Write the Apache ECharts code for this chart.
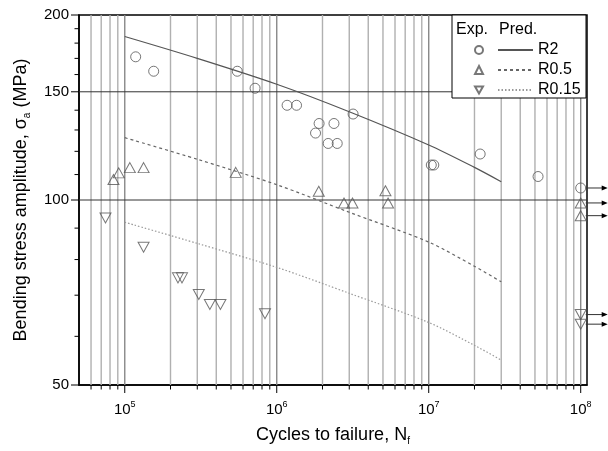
<!DOCTYPE html>
<html><head><meta charset="utf-8">
<script src="https://cdn.jsdelivr.net/npm/echarts@6/dist/echarts.min.js"></script>
<style>html,body{margin:0;padding:0;background:#fff}#c{width:608px;height:451px}</style>
</head><body><div id="c"></div>
<script>
// Experimental data [cycles to failure, stress amplitude MPa]
const r2Exp = [[1.18e5,171],[1.55e5,162],[5.5e5,162],[7.2e5,152],[1.17e6,142.6],[1.35e6,142.6],[1.8e6,128.5],[1.9e6,133.2],[2.18e6,123.6],[2.38e6,133.2],[2.5e6,123.6],[3.18e6,138],[1.04e7,114],[1.08e7,114],[2.18e7,118.8],[5.24e7,109.2],[1e8,104.6]];
const r05Exp = [[8.43e4,108],[9.13e4,110.7],[1.08e5,112.9],[1.33e5,112.9],[5.37e5,110.9],[1.89e6,103.3],[2.77e6,98.9],[3.15e6,98.9],[5.19e6,103.5],[5.4e6,98.9],[1e8,98.9],[1e8,94.3]];
const r015Exp = [[7.47e4,93.5],[1.33e5,83.8],[2.24e5,74.7],[2.38e5,74.7],[3.07e5,70.2],[3.63e5,67.6],[4.26e5,67.6],[8.37e5,65.3],[1e8,65.1],[1e8,62.8]];
// Predictions
const predN = [1e5,3e5,1e6,3e6,1e7,2e7,3e7];
const r2Pred = [184.5,170,154.3,139.2,122.9,113,107.1];
const r05Pred = [126.3,116.5,105.9,95.5,85.4,78,73.6];
const r015Pred = [92,85,77.7,70.5,63.2,58,54.9];
// Axis ticks
const xMin = 5e4, xMax = 1.1e8, yMin = 50, yMax = 200;
const xMajorTicks = [1e5,1e6,1e7,1e8];
const xMinorTicks = [6e4,7e4,8e4,9e4,2e5,3e5,4e5,5e5,6e5,7e5,8e5,9e5,2e6,3e6,4e6,5e6,6e6,7e6,8e6,9e6,2e7,3e7,4e7,5e7,6e7,7e7,8e7,9e7];
const yTicks = [50,60,70,80,90,100,110,120,130,140,150,160,170,180,190,200];
const yLabels = [50,100,150,200];
const yGridLines = [100,150];
const runoutN = 1e8;

const FONT = '"Liberation Sans", Arial, sans-serif';
const chart = echarts.init(document.getElementById('c'));

const xTickData = xMajorTicks.map(v => [v, 1]).concat(xMinorTicks.map(v => [v, 0]));
const yTickData = yTicks.map(v => [xMin, v]);
const runouts = r2Exp.concat(r05Exp, r015Exp).filter(d => d[0] >= runoutN);

function predLine(vals){ return predN.map((n,i) => [n, vals[i]]); }

const DOWN_TRI = 'path://M0,0L10,0L5,8.66Z';

chart.setOption({
  animation: false,
  textStyle: {fontFamily: FONT},
  grid: {left: 79, right: 21, top: 15, bottom: 64, show: true, borderColor: '#000', borderWidth: 1.5, backgroundColor: 'transparent'},
  xAxis: {
    type: 'log', logBase: 10, min: xMin, max: xMax,
    axisLine: {lineStyle: {color: '#000', width: 1.5}},
    axisTick: {show: false}, splitLine: {show: false}, minorTick: {show: false},
    axisLabel: {
      margin: 15, color: '#000',
      formatter: function(v){
        const e = Math.round(Math.log10(v));
        if (Math.abs(Math.log10(v) - e) > 1e-6) return '';
        return '{b|10}{s|' + e + '}';
      },
      rich: {b: {fontSize: 15, lineHeight: 19, color: '#000', fontFamily: FONT}, s: {fontSize: 9, verticalAlign: 'top', lineHeight: 19, color: '#000', fontFamily: FONT}}
    },
    name: 'Cycles to failure, {n|N}{f|f}', nameLocation: 'middle', nameGap: 39,
    nameTextStyle: {fontSize: 18, color: '#000', lineHeight: 22, rich: {n: {fontSize: 18, color: '#000', lineHeight: 22, fontFamily: FONT}, f: {fontSize: 10, verticalAlign: 'bottom', color: '#000', lineHeight: 22, fontFamily: FONT}}}
  },
  yAxis: {
    type: 'log', logBase: 10, min: yMin, max: yMax,
    axisLine: {lineStyle: {color: '#000', width: 1.5}},
    axisTick: {show: false}, splitLine: {show: false}, axisLabel: {show: false}, minorTick: {show: false},
    name: 'Bending stress amplitude, {g|σ}{a|a} (MPa)', nameLocation: 'middle', nameGap: 47,
    nameTextStyle: {fontSize: 18, color: '#000', lineHeight: 22, rich: {g: {fontSize: 18, color: '#000', lineHeight: 22, fontFamily: FONT}, a: {fontSize: 10, verticalAlign: 'bottom', color: '#000', lineHeight: 22, fontFamily: FONT}}}
  },
  legend: [
    {data: ['R2 Exp.','R0.5 Exp.','R0.15 Exp.'], orient: 'vertical', left: 474, top: 40, padding: 0, itemGap: 0,
     itemWidth: 8, itemHeight: 8, selectedMode: false, z: 20, formatter: () => ' ',
     textStyle: {fontSize: 16, lineHeight: 20, color: '#000'}},
    {data: ['R2','R0.5','R0.15'], orient: 'vertical', left: 497, top: 40, padding: 0, itemGap: 0,
     itemWidth: 35, itemHeight: 10, selectedMode: false, z: 20, itemStyle: {opacity: 0},
     textStyle: {fontSize: 16, lineHeight: 20, color: '#000'}}
  ],
  graphic: [
    {type: 'rect', shape: {x: 452, y: 15, width: 134, height: 83}, style: {fill: '#fff', stroke: '#000', lineWidth: 1}, z: 10},
    {type: 'text', x: 456, y: 30, style: {text: 'Exp.', font: '16px ' + FONT, fill: '#000', verticalAlign: 'middle'}, z: 20},
    {type: 'text', x: 499, y: 30, style: {text: 'Pred.', font: '16px ' + FONT, fill: '#000', verticalAlign: 'middle'}, z: 20}
  ],
  series: [
    {type: 'custom', name: 'xticks', data: xTickData, z: 1, silent: true, clip: false,
     renderItem: function(params, api){
       const v = api.value(0), major = api.value(1) === 1;
       const b = api.coord([v, yMin]), t = api.coord([v, yMax]);
       return {type: 'group', children: [
         {type: 'line', shape: {x1: b[0], y1: b[1], x2: t[0], y2: t[1]}, style: {stroke: major ? '#888' : '#b0b0b0', lineWidth: 1.4}},
         {type: 'line', shape: {x1: b[0], y1: b[1], x2: b[0], y2: b[1] + (major ? 8 : 4.5)}, style: {stroke: '#000', lineWidth: 1}}
       ]};
     }},
    {type: 'custom', name: 'yticks', data: yTickData, z: 1, silent: true, clip: false,
     renderItem: function(params, api){
       const v = api.value(1), major = yLabels.indexOf(v) >= 0;
       const p = api.coord([xMin, v]), q = api.coord([xMax, v]);
       const ch = [{type: 'line', shape: {x1: p[0], y1: p[1], x2: p[0] - (major ? 8 : 4.5), y2: p[1]}, style: {stroke: '#000', lineWidth: 1}}];
       if (yGridLines.indexOf(v) >= 0) ch.push({type: 'line', shape: {x1: p[0], y1: p[1], x2: q[0], y2: q[1]}, style: {stroke: '#333', lineWidth: 1}});
       if (major) ch.push({type: 'text', x: p[0] - 10, y: p[1], style: {text: String(v), font: '15px ' + FONT, fill: '#000', align: 'right', verticalAlign: 'middle'}});
       return {type: 'group', children: ch};
     }},
    {type: 'custom', name: 'runout', data: runouts, z: 3, silent: true, clip: false,
     renderItem: function(params, api){
       const p = api.coord([api.value(0), api.value(1)]);
       return {type: 'group', children: [
         {type: 'line', shape: {x1: p[0] + 5, y1: p[1], x2: p[0] + 22, y2: p[1]}, style: {stroke: '#333', lineWidth: 1}},
         {type: 'polygon', shape: {points: [[p[0] + 21, p[1] - 2.5], [p[0] + 27, p[1]], [p[0] + 21, p[1] + 2.5]]}, style: {fill: '#000'}}
       ]};
     }},
    {type: 'line', name: 'R2', data: predLine(r2Pred), symbol: 'none', showSymbol: false, smooth: 0.3, z: 4,
     itemStyle: {color: '#555'}, lineStyle: {color: '#555', width: 1.2, type: 'solid'}},
    {type: 'line', name: 'R0.5', data: predLine(r05Pred), symbol: 'none', showSymbol: false, smooth: 0.3, z: 4,
     itemStyle: {color: '#666'}, lineStyle: {color: '#666', width: 1.2, type: [3, 3]}},
    {type: 'line', name: 'R0.15', data: predLine(r015Pred), symbol: 'none', showSymbol: false, smooth: 0.3, z: 4,
     itemStyle: {color: '#999'}, lineStyle: {color: '#999', width: 1.2, type: [1.5, 2]}},
    {type: 'scatter', name: 'R2 Exp.', data: r2Exp, symbol: 'circle', symbolSize: 10, z: 5,
     itemStyle: {color: 'rgba(255,255,255,0)', borderColor: '#555', borderWidth: 1}},
    {type: 'scatter', name: 'R0.5 Exp.', data: r05Exp, symbol: 'triangle', symbolSize: [11, 10], z: 5,
     itemStyle: {color: 'rgba(255,255,255,0)', borderColor: '#555', borderWidth: 1}},
    {type: 'scatter', name: 'R0.15 Exp.', data: r015Exp, symbol: DOWN_TRI, symbolSize: [11, 10], z: 5,
     itemStyle: {color: 'rgba(255,255,255,0)', borderColor: '#555', borderWidth: 1}}
  ]
});
</script></body></html>
